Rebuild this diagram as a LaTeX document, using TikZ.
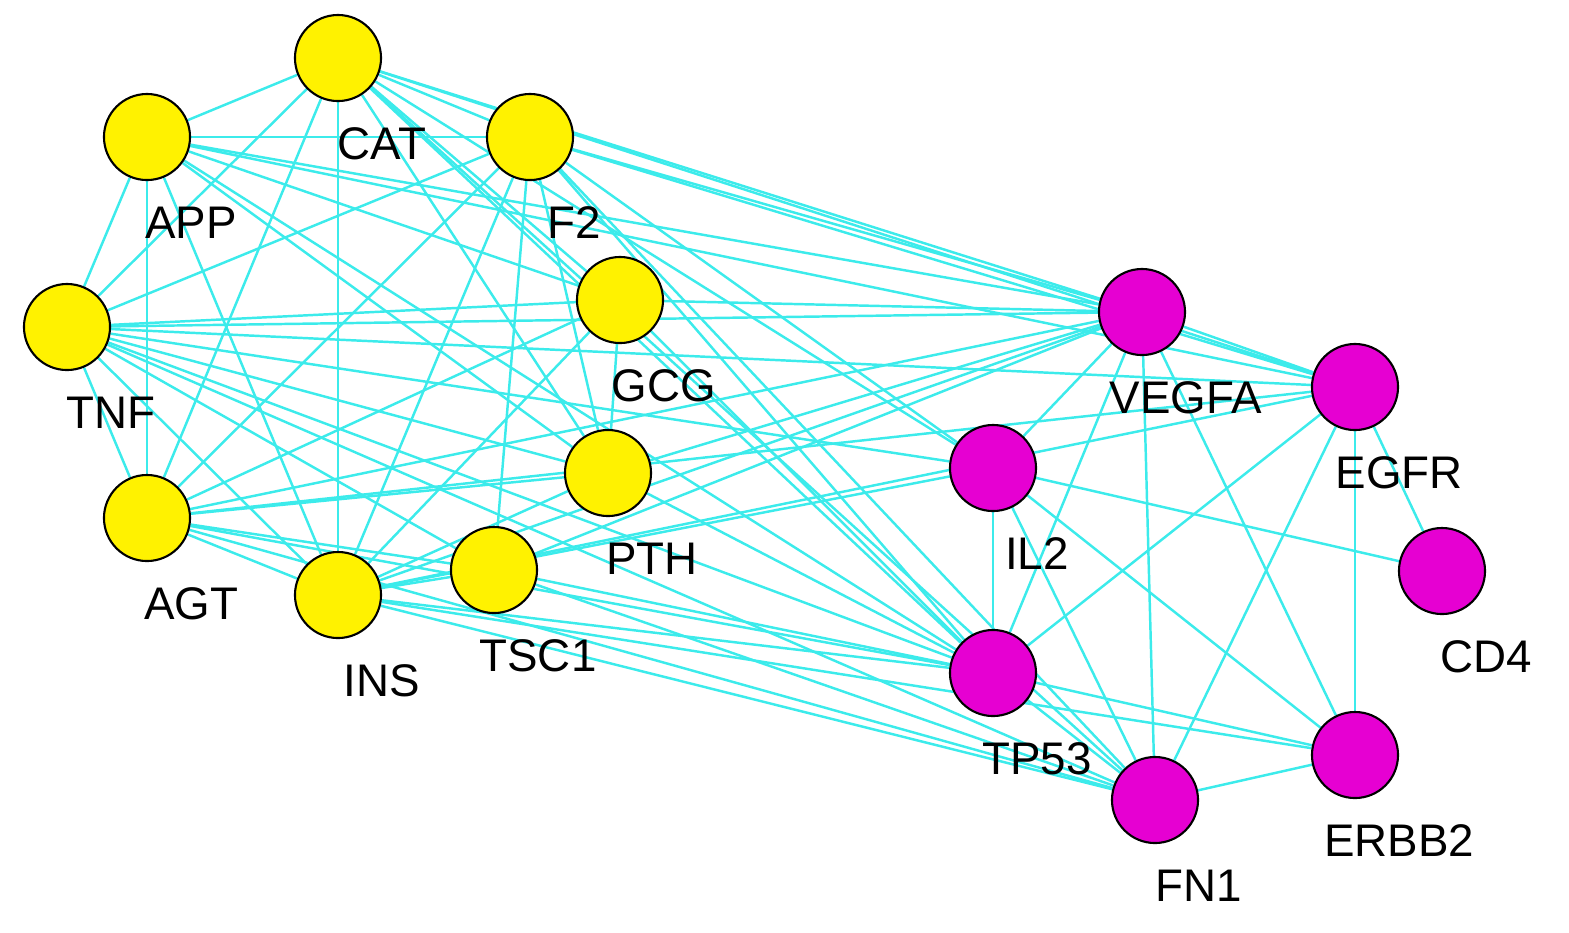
\documentclass[tikz,border=0pt]{standalone}
\usepackage{fontspec}
\setmainfont{Liberation Sans}
\usetikzlibrary{backgrounds}
\begin{document}
\begin{tikzpicture}[x=0.01cm,y=-0.01cm,
  g/.style={circle,draw=black,line width=0.6pt,minimum size=0.86cm,inner sep=0pt},
  yel/.style={g,fill=yellow},
  mag/.style={g,fill={rgb,255:red,230;green,0;blue,210}},
  lab/.style={font=\fontsize{13}{15}\selectfont,inner sep=0pt},
  e/.style={draw={rgb,255:red,60;green,235;blue,235},line width=0.7pt}]
\useasboundingbox (0,0) rectangle (1569,932);
\foreach \n/\x/\y/\s in {CAT/338/58/yel,APP/147/137/yel,F2/530/137/yel,TNF/67/327/yel,GCG/620/300/yel,PTH/608/473/yel,AGT/147/518/yel,INS/338/595/yel,TSC1/494/570/yel,VEGFA/1142/312/mag,EGFR/1355/387/mag,IL2/993/468/mag,CD4/1442/571/mag,TP53/993/673/mag,FN1/1155/800/mag,ERBB2/1355/755/mag}{
  \node[\s] (\n) at (\x,\y) {};
  \node[lab] (\n-l) at (\x+44,\y+86) {\n};
}
\begin{scope}[on background layer]
\foreach \a/\b in {CAT/APP,CAT/F2,CAT/TNF,CAT/AGT,CAT/INS,CAT/GCG,CAT/PTH,CAT/VEGFA,CAT/EGFR,CAT/TP53,CAT/FN1,CAT/IL2,
APP/F2,APP/TNF,APP/AGT,APP/INS,APP/GCG,APP/PTH,APP/VEGFA,APP/TP53,APP/EGFR,
F2/TNF,F2/AGT,F2/INS,F2/PTH,F2/VEGFA,F2/EGFR,F2/TP53,F2/FN1,F2/IL2,F2/TSC1,
TNF/AGT,TNF/GCG,TNF/PTH,TNF/INS,TNF/VEGFA,TNF/TP53,TNF/FN1,TNF/IL2,TNF/TSC1,TNF/EGFR,
GCG/PTH,GCG/AGT,GCG/INS,GCG/VEGFA,GCG/TP53,
PTH/AGT,PTH/INS,PTH/VEGFA,PTH/TP53,
AGT/INS,AGT/VEGFA,AGT/TP53,AGT/FN1,AGT/TSC1,AGT/EGFR,
INS/TSC1,INS/VEGFA,INS/TP53,INS/FN1,INS/IL2,INS/ERBB2,INS/EGFR,
TSC1/TP53,TSC1/FN1,TSC1/VEGFA,
VEGFA/EGFR,VEGFA/IL2,VEGFA/TP53,VEGFA/FN1,VEGFA/ERBB2,
EGFR/CD4,EGFR/TP53,EGFR/FN1,EGFR/ERBB2,
IL2/TP53,IL2/CD4,IL2/FN1,IL2/ERBB2,
TP53/FN1,TP53/ERBB2,FN1/ERBB2}
  \draw[e] (\a) -- (\b);
\end{scope}
\end{tikzpicture}
\end{document}
